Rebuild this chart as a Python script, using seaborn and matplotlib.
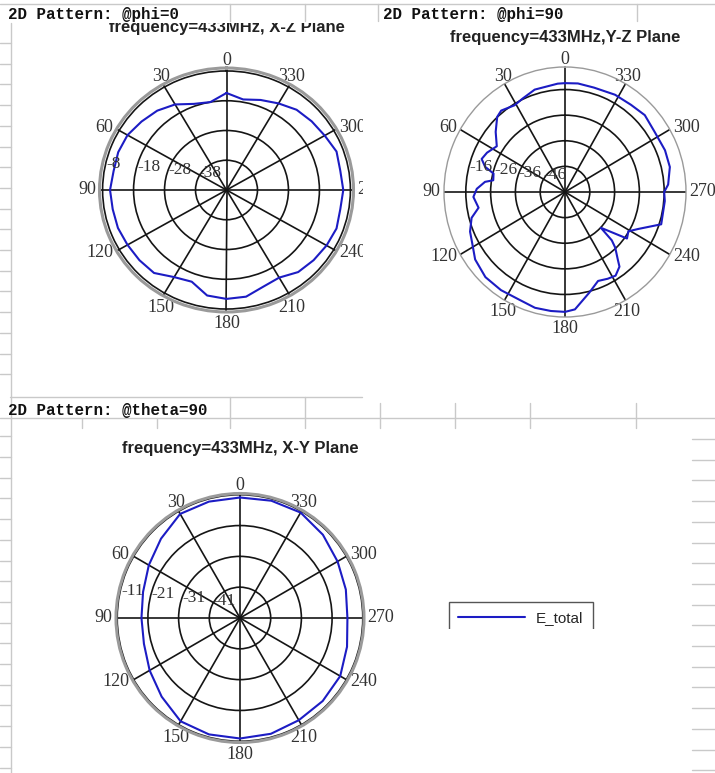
import numpy as np
import matplotlib
matplotlib.use("Agg")
import matplotlib.pyplot as plt
from matplotlib.lines import Line2D
from matplotlib.patches import Rectangle
from matplotlib.transforms import offset_copy
import seaborn as sns

# ---- data (angle in deg, gain in dB) ----
xz_angle = [0, 10, 20, 30, 40, 50, 60, 70, 80, 90, 100, 110, 120, 130, 140, 150, 160, 170,
            180, 190, 200, 210, 220, 230, 240, 250, 260, 270, 280, 290, 300, 310, 320, 330,
            340, 350, 360]
xz_gain = [-15.4, -18.0, -17.2, -14.8, -13.2, -12.2, -11.1, -10.8, -11.0, -10.4, -10.7, -10.7,
           -11.1, -11.3, -11.6, -14.2, -15.2, -12.0, -11.4, -11.6, -13.4, -14.0, -12.0, -11.3,
           -10.7, -10.2, -10.7, -10.3, -10.7, -10.2, -11.4, -12.1, -12.8, -14.4, -15.8, -17.1,
           -15.4]

yz_angle = [0, 4, 17, 25, 31, 39, 43, 50, 57, 64, 69, 73, 76, 81, 83, 88, 93, 100, 105, 112,
            118, 126, 136, 146, 156, 165, 173, 180, 185, 194, 201, 207, 212, 217, 219, 223,
            225, 226, 234, 239, 244, 252, 265, 270, 274, 283, 292, 303, 313, 322, 332, 344,
            353, 360]
yz_gain = [-13.5, -13.6, -14.2, -15.7, -16.5, -15.1, -15.9, -19.5, -23.2, -21.0, -20.0, -22.3,
           -26.3, -26.7, -23.5, -20.4, -19.0, -20.6, -17.0, -14.7, -13.6, -11.2, -9.8, -9.8,
           -10.1, -9.2, -9.2, -9.2, -10.0, -15.5, -18.8, -18.0, -17.5, -19.5, -22.2, -26.3,
           -29.3, -35.9, -25.1, -26.2, -23.1, -15.2, -15.6, -16.0, -14.3, -12.6, -12.5, -12.9,
           -12.0, -12.8, -13.0, -13.6, -13.3, -13.5]

xy_angle = [0, 15, 30, 45, 60, 75, 90, 105, 120, 135, 150, 165, 180, 195, 210, 225, 240, 255,
            270, 285, 300, 315, 330, 345, 360]
xy_gain = [-11.9, -11.9, -12.0, -14.6, -16.7, -18.3, -18.9, -18.6, -17.0, -14.9, -12.3, -11.9,
           -11.9, -12.1, -12.7, -12.9, -13.3, -14.9, -16.0, -15.3, -14.3, -12.8, -11.5, -11.6,
           -11.9]

xz_ticks = [-38, -28, -18, -8]
yz_ticks = [-46, -36, -26, -16]
xy_ticks = [-41, -31, -21, -11]
theta_ticks = list(range(0, 360, 30))
angle_labels = [str(a) for a in theta_ticks]

titles = ["frequency=433MHz, X-Z Plane", "frequency=433MHz,Y-Z Plane", "frequency=433MHz, X-Y Plane"]
headers = ["2D Pattern: @phi=0", "2D Pattern: @phi=90", "2D Pattern: @theta=90"]

W, H = 715, 773
BLUE = "#1c1cc4"
GRID = "#c9c9c9"

sns.set_style("white")
plt.rcParams["font.family"] = ["DejaVu Sans"]

fig = plt.figure(figsize=(W / 100, H / 100), dpi=100)


def fx(x):
    return x / W


def fy(y):
    return 1 - y / H


def polar_panel(cx, cy, rx, ry, angles, gains, ticks, rmin, rmax, spine_lw, label=None):
    ax = fig.add_axes([fx(cx - rx), fy(cy + ry), 2 * rx / W, 2 * ry / H], projection="polar")
    ax.set_aspect("auto")
    ax.set_theta_zero_location("N")
    ax.set_theta_direction(1)
    sns.lineplot(x=np.deg2rad(angles), y=gains, ax=ax, sort=False, estimator=None,
                 color=BLUE, lw=1.5, label=label, legend=False)
    ax.set_ylim(rmin, rmax)
    ax.set_yticks(ticks)
    ax.set_yticklabels([])
    ax.set_thetagrids(theta_ticks, angle_labels, fontsize=13,
                      family="Liberation Serif", color="#333333")
    ax.tick_params(axis="x", pad=-4.5, length=0)
    # labels sit just outside the ring, aligned on the side facing the ring
    for lab, a in zip(ax.get_xticklabels(), theta_ticks):
        sx = -np.sin(np.deg2rad(a))
        sy = np.cos(np.deg2rad(a))
        if abs(sx) < 0.6:
            lab.set_ha("center")
        else:
            lab.set_ha("right" if sx < 0 else "left")
        if abs(sy) < 0.6:
            lab.set_va("center")
        else:
            lab.set_va("baseline" if sy > 0 else "top")
    ax.grid(True, color="#151515", lw=1.2)
    ax.spines["polar"].set_color("#9a9a9a")
    ax.spines["polar"].set_linewidth(spine_lw)
    ax.set_xlabel("")
    ax.set_ylabel("")
    shifted = offset_copy(ax.transData, fig=fig, x=3, y=6, units="dots")
    for t in ticks:
        ax.text(np.deg2rad(84), t, str(t), ha="left", va="bottom", transform=shifted,
                fontsize=12.5, family="Liberation Serif", color="#333333")
    return ax


ax1 = polar_panel(226.5, 190, 127, 122, xz_angle, xz_gain, xz_ticks, -48, -7.0, 2.2)
ax2 = polar_panel(565, 192, 121, 125, yz_angle, yz_gain, yz_ticks, -56, -7.2, 1.0)
ax3 = polar_panel(240, 618, 124, 124.5, xy_angle, xy_gain, xy_ticks, -51, -10.6, 2.2,
                  label="E_total")

# titles
title_kw = dict(fontsize=12, fontweight="bold", family="Liberation Sans", color="#222222",
                ha="center", va="baseline")
fig.text(fx(227), fy(32), titles[0], **title_kw)
fig.text(fx(565), fy(42), titles[1], **title_kw)
fig.text(fx(240), fy(453), titles[2], **title_kw)

# spreadsheet cell clipping: header row hides the top of the first title, next column hides "270"
fig.add_artist(Rectangle((0, fy(23)), 1, 1 - fy(23), transform=fig.transFigure,
                         facecolor="white", edgecolor="none", zorder=8))
fig.add_artist(Rectangle((fx(362.5), fy(380)), fx(415) - fx(362.5), fy(23) - fy(380),
                         transform=fig.transFigure, facecolor="white", edgecolor="none", zorder=8))

# legend
leg = fig.legend(handles=ax3.get_lines()[:1], labels=["E_total"], loc="upper left",
                 bbox_to_anchor=(fx(449), fy(602)), bbox_transform=fig.transFigure,
                 fancybox=False, edgecolor="#555555", framealpha=1,
                 prop={"family": "Liberation Sans", "size": 11},
                 handlelength=4.4, handletextpad=0.7, borderpad=0.6, borderaxespad=0)
leg.get_frame().set_linewidth(1.0)
leg.set_zorder(8)
fig.add_artist(Rectangle((fx(440), fy(660)), fx(600) - fx(440), fy(629) - fy(660),
                         transform=fig.transFigure, facecolor="white", edgecolor="none", zorder=9))


# spreadsheet grid decoration
def hline(y, x0, x1, color=GRID, lw=1.0):
    fig.add_artist(Line2D([fx(x0), fx(x1)], [fy(y), fy(y)], transform=fig.transFigure,
                          color=color, lw=lw, zorder=10))


def vline(x, y0, y1, color=GRID, lw=1.0):
    fig.add_artist(Line2D([fx(x), fx(x)], [fy(y0), fy(y1)], transform=fig.transFigure,
                          color=color, lw=lw, zorder=10))


hline(4, 0, 715)
for x in [230, 305, 378, 637]:
    vline(x, 4, 21)
vline(11, 23, 773)
for k in range(37):
    y = 43 + k * 20.7
    if y < 773 and not (390 < y < 432):
        hline(y, 0, 11)
hline(397, 10, 362)
hline(418, 0, 715)
for x in [82, 157]:
    vline(x, 418, 428)
for x in [230, 305]:
    vline(x, 397, 428)
for x in [380, 455, 530, 636]:
    vline(x, 403, 428)
for k in range(17):
    y = 439 + k * 20.7
    if y < 773:
        hline(y, 692, 715)

head_kw = dict(fontsize=11.4, fontweight="bold", family="Liberation Mono", color="#111111",
               ha="left", va="center", zorder=11)
fig.text(fx(8), fy(14), headers[0], **head_kw)
fig.text(fx(383), fy(14), headers[1], **head_kw)
fig.text(fx(8), fy(411), headers[2], **head_kw)

fig.savefig("out.png", dpi=100)
